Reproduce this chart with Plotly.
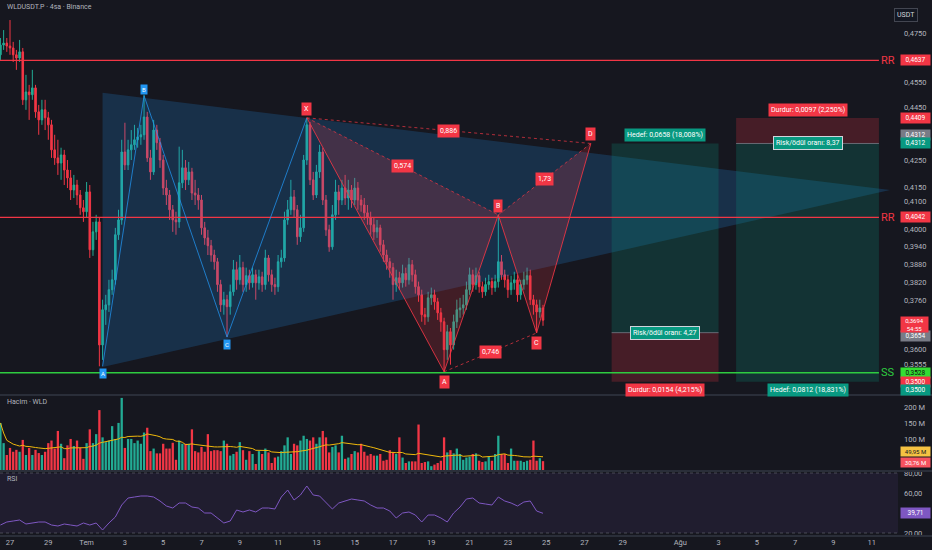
import math
import pandas as pd
import plotly.graph_objects as go

# WLDUSDT.P 4sa mumlar
first_open = 0.4660
closes = [
    0.4700, 0.4708, 0.4696, 0.4688, 0.4660, 0.4647, 0.4672, 0.4480, 0.4511, 0.4500,
    0.4527, 0.4433, 0.4402, 0.4441, 0.4410, 0.4383, 0.4288, 0.4258, 0.4239, 0.4269,
    0.4213, 0.4184, 0.4140, 0.4158, 0.4122, 0.4076, 0.4062, 0.4133, 0.3929, 0.3991,
    0.4026, 0.3615, 0.3728, 0.3744, 0.3794, 0.3827, 0.3981, 0.4033, 0.4280, 0.4232,
    0.4288, 0.4307, 0.4326, 0.4337, 0.4345, 0.4413, 0.4258, 0.4206, 0.4363, 0.4315,
    0.4250, 0.4147, 0.4122, 0.4069, 0.4033, 0.4026, 0.4166, 0.4221, 0.4177, 0.4206,
    0.4129, 0.4122, 0.4104, 0.4005, 0.3970, 0.3943, 0.3911, 0.3888, 0.3811, 0.3744,
    0.3761, 0.3738, 0.3787, 0.3861, 0.3827, 0.3868, 0.3811, 0.3841, 0.3817, 0.3844,
    0.3817, 0.3837, 0.3811, 0.3901, 0.3844, 0.3811, 0.3804, 0.3888, 0.3901, 0.4033,
    0.4069, 0.4115, 0.4069, 0.3974, 0.4005, 0.4250, 0.4383, 0.4177, 0.4122, 0.4206,
    0.4280, 0.4104, 0.3998, 0.3939, 0.4051, 0.4133, 0.4104, 0.4147, 0.4111, 0.4140,
    0.4104, 0.4147, 0.4104, 0.4086, 0.4058, 0.4040, 0.4016, 0.3991, 0.4005, 0.3946,
    0.3911, 0.3888, 0.3868, 0.3811, 0.3834, 0.3817, 0.3848, 0.3827, 0.3878, 0.3844,
    0.3804, 0.3777, 0.3712, 0.3705, 0.3767, 0.3777, 0.3754, 0.3718, 0.3689, 0.3600,
    0.3657, 0.3615, 0.3689, 0.3728, 0.3734, 0.3744, 0.3794, 0.3844, 0.3811, 0.3841,
    0.3804, 0.3787, 0.3811, 0.3821, 0.3801, 0.3821, 0.3888, 0.3844, 0.3827, 0.3794,
    0.3817, 0.3827, 0.3777, 0.3811, 0.3827, 0.3841, 0.3761, 0.3744, 0.3721, 0.3734,
    0.3694,
]
highs = [
    0.4729, 0.4762, 0.4729, 0.4804, 0.4713, 0.4680, 0.4721, 0.4688, 0.4579, 0.4539,
    0.4599, 0.4539, 0.4460, 0.4480, 0.4480, 0.4433, 0.4402, 0.4345, 0.4326, 0.4296,
    0.4288, 0.4250, 0.4213, 0.4195, 0.4177, 0.4140, 0.4104, 0.4169, 0.4158, 0.4026,
    0.4051, 0.4040, 0.3761, 0.3777, 0.3827, 0.3861, 0.4005, 0.4069, 0.4326, 0.4391,
    0.4326, 0.4363, 0.4383, 0.4371, 0.4383, 0.4500, 0.4433, 0.4288, 0.4402, 0.4383,
    0.4333, 0.4269, 0.4177, 0.4140, 0.4086, 0.4062, 0.4300, 0.4288, 0.4250, 0.4243,
    0.4221, 0.4177, 0.4147, 0.4122, 0.4026, 0.3998, 0.3963, 0.3929, 0.3901, 0.3827,
    0.3787, 0.3777, 0.3811, 0.3894, 0.3888, 0.3911, 0.3888, 0.3868, 0.3861, 0.3868,
    0.3861, 0.3861, 0.3854, 0.3929, 0.3911, 0.3861, 0.3834, 0.3911, 0.3929, 0.4062,
    0.4104, 0.4177, 0.4140, 0.4086, 0.4051, 0.4269, 0.4410, 0.4394, 0.4206, 0.4232,
    0.4307, 0.4296, 0.4122, 0.4016, 0.4086, 0.4177, 0.4158, 0.4177, 0.4195, 0.4177,
    0.4158, 0.4184, 0.4169, 0.4122, 0.4111, 0.4086, 0.4062, 0.4040, 0.4033, 0.4016,
    0.3963, 0.3929, 0.3901, 0.3884, 0.3861, 0.3854, 0.3878, 0.3868, 0.3901, 0.3894,
    0.3861, 0.3821, 0.3794, 0.3734, 0.3787, 0.3801, 0.3794, 0.3767, 0.3734, 0.3702,
    0.3679, 0.3669, 0.3712, 0.3761, 0.3767, 0.3777, 0.3821, 0.3868, 0.3861, 0.3868,
    0.3854, 0.3821, 0.3834, 0.3844, 0.3834, 0.3844, 0.4051, 0.3911, 0.3861, 0.3844,
    0.3841, 0.3854, 0.3844, 0.3827, 0.3854, 0.3868, 0.3861, 0.3777, 0.3761, 0.3761,
    0.3744,
]
lows = [
    0.4639, 0.4680, 0.4672, 0.4660, 0.4631, 0.4599, 0.4631, 0.4460, 0.4441, 0.4402,
    0.4480, 0.4410, 0.4345, 0.4383, 0.4363, 0.4326, 0.4258, 0.4232, 0.4195, 0.4177,
    0.4158, 0.4147, 0.4104, 0.4111, 0.4086, 0.4051, 0.4026, 0.4040, 0.3901, 0.3908,
    0.3963, 0.3548, 0.3568, 0.3679, 0.3721, 0.3777, 0.3811, 0.3963, 0.4016, 0.4213,
    0.4213, 0.4250, 0.4288, 0.4296, 0.4307, 0.4326, 0.4243, 0.4177, 0.4195, 0.4288,
    0.4221, 0.4122, 0.4086, 0.4033, 0.3991, 0.3981, 0.4005, 0.4147, 0.4140, 0.4158,
    0.4104, 0.4086, 0.4069, 0.3981, 0.3946, 0.3911, 0.3888, 0.3861, 0.3787, 0.3721,
    0.3712, 0.3640, 0.3712, 0.3774, 0.3794, 0.3811, 0.3787, 0.3787, 0.3794, 0.3801,
    0.3761, 0.3794, 0.3787, 0.3794, 0.3821, 0.3787, 0.3777, 0.3787, 0.3868, 0.3888,
    0.4016, 0.4051, 0.4040, 0.3946, 0.3956, 0.3991, 0.4232, 0.4158, 0.4104, 0.4111,
    0.4184, 0.4086, 0.3977, 0.3922, 0.3929, 0.4033, 0.4051, 0.4086, 0.4086, 0.4069,
    0.4076, 0.4086, 0.4069, 0.4062, 0.4033, 0.4016, 0.3981, 0.3963, 0.3970, 0.3922,
    0.3888, 0.3861, 0.3834, 0.3761, 0.3787, 0.3794, 0.3801, 0.3804, 0.3811, 0.3821,
    0.3781, 0.3754, 0.3689, 0.3679, 0.3689, 0.3744, 0.3728, 0.3695, 0.3657, 0.3531,
    0.3568, 0.3553, 0.3600, 0.3669, 0.3702, 0.3712, 0.3728, 0.3777, 0.3787, 0.3794,
    0.3784, 0.3767, 0.3774, 0.3794, 0.3777, 0.3787, 0.3801, 0.3827, 0.3801, 0.3767,
    0.3777, 0.3794, 0.3754, 0.3761, 0.3794, 0.3811, 0.3744, 0.3712, 0.3653, 0.3702,
    0.3676,
]
# hacim, milyon WLD
volumes_m = [
    150, 87, 50, 72, 60, 66, 60, 97, 50, 72,
    50, 66, 56, 50, 60, 87, 95, 70, 125, 85,
    40, 80, 100, 78, 95, 72, 38, 87, 130, 87,
    115, 190, 105, 90, 95, 140, 100, 150, 228, 72,
    100, 100, 87, 95, 85, 120, 135, 62, 70, 55,
    55, 85, 70, 70, 88, 35, 95, 85, 85, 85,
    130, 62, 58, 75, 60, 115, 62, 65, 65, 62,
    95, 85, 48, 53, 60, 90, 65, 35, 62, 53,
    22, 62, 53, 70, 58, 25, 42, 45, 62, 80,
    105, 53, 85, 80, 95, 110, 100, 95, 105, 85,
    105, 125, 105, 58, 75, 80, 58, 110, 38, 42,
    53, 62, 58, 85, 60, 48, 53, 48, 48, 53,
    32, 35, 65, 58, 53, 105, 42, 25, 30, 30,
    30, 145, 25, 28, 30, 15, 20, 25, 32, 105,
    58, 65, 55, 70, 53, 35, 42, 45, 53, 55,
    32, 28, 30, 45, 32, 53, 110, 53, 53, 25,
    70, 32, 32, 32, 28, 32, 35, 95, 32, 40,
    30.76,
]
# RSI, her iki mumda bir okunan
rsi_2 = [
    28, 31, 32, 33, 29, 30, 31, 31, 28, 27,
    29, 28, 27, 30, 28, 30, 23, 30, 36, 48,
    55, 56, 57, 57, 56, 52, 47, 45, 50, 50,
    46, 45, 40, 40, 35, 30, 32, 43, 41, 43,
    41, 45, 45, 44, 56, 63, 53, 58, 67, 58,
    57, 50, 44, 50, 52, 54, 53, 52, 48, 45,
    45, 42, 35, 40, 41, 38, 31, 38, 38, 35,
    31, 40, 46, 54, 55, 50, 49, 48, 56, 52,
    50, 47, 51, 52, 42, 39.71,
]

# destek / direnc seviyeleri
rr_levels = [0.4637, 0.4042]
ss_level = 0.3528

# XABCD harmonik formasyon
xabcd_names = ["X", "A", "B", "C", "D"]
xabcd_times = ["2025-07-12 12:00", "2025-07-19 16:00", "2025-07-22 12:00",
               "2025-07-24 12:00", "2025-07-27 08:00"]
xabcd_prices = [0.4410, 0.3531, 0.4051, 0.3653, 0.4312]
ratio_pairs = [(0, 2), (1, 3), (2, 4), (0, 4)]
ratio_texts = ["0,574", "0,746", "1,73", "0,886"]

# ucgen formasyonu
tri_names = ["A", "B", "C"]
tri_times = ["2025-07-01 20:00", "2025-07-04 00:00", "2025-07-08 08:00", "2025-07-12 12:00"]
tri_prices = [0.3548, 0.4496, 0.3640, 0.4410]
wedge_times = ["2025-07-01 20:00", "2025-08-11 23:00", "2025-07-01 20:00"]
wedge_prices = [0.4508, 0.4140, 0.3546]

# uzun / kisa pozisyon araclari
pos_start = ["2025-07-28 10:00", "2025-08-03 22:00"]
pos_end = ["2025-08-03 00:00", "2025-08-11 09:00"]
pos_entry = [0.3654, 0.4312]
pos_target = [0.4312, 0.3500]
pos_stop = [0.3500, 0.4409]
pos_target_txt = ["Hedef: 0,0658 (18,008%)", "Hedef: 0,0812 (18,831%)"]
pos_stop_txt = ["Durdur: 0,0154 (4,215%)", "Durdur: 0,0097 (2,250%)"]
pos_rr_txt = ["Risk/ödül oranı: 4,27", "Risk/ödül oranı: 8,37"]

price_ticks = [0.4750, 0.4550, 0.4450, 0.4250, 0.4150, 0.4100, 0.4000,
               0.3940, 0.3880, 0.3820, 0.3760, 0.3600, 0.3555]
date_ticks = ["2025-06-27", "2025-06-29", "2025-07-01", "2025-07-03", "2025-07-05",
              "2025-07-07", "2025-07-09", "2025-07-11", "2025-07-13", "2025-07-15",
              "2025-07-17", "2025-07-19", "2025-07-21", "2025-07-23", "2025-07-25",
              "2025-07-27", "2025-07-29", "2025-08-01", "2025-08-03", "2025-08-05",
              "2025-08-07", "2025-08-09", "2025-08-11"]
date_labels = ["27", "29", "Tem", "3", "5", "7", "9", "11", "13", "15", "17", "19",
               "21", "23", "25", "27", "29", "Ağu", "3", "5", "7", "9", "11"]

BG = "#16171f"
UP = "#22ab94"
DN = "#f23645"
TEAL = "#089981"
GREY_TXT = "#b2b5be"
FONT = "Roboto, DejaVu Sans, sans-serif"
PX = 898 / 932

times = pd.date_range("2025-06-26 12:00", periods=len(closes), freq="4h")
opens = [first_open] + closes[:-1]
up = [c >= o for o, c in zip(opens, closes)]
x_start = pd.Timestamp("2025-06-26 11:28")
x_end = pd.Timestamp("2025-08-12 08:54")


def lg(p):
    return math.log10(p)


def tmid(a, b):
    a, b = pd.Timestamp(a), pd.Timestamp(b)
    return a + (b - a) / 2


fig = go.Figure()

# ucgen alani
fig.add_trace(go.Scatter(x=wedge_times, y=wedge_prices, fill="toself", mode="lines",
                         fillcolor="rgba(33,150,243,0.2)", line=dict(width=0),
                         yaxis="y", hoverinfo="skip"))

# pozisyon kutulari
for i in range(2):
    for a, b, col in [(pos_entry[i], pos_target[i], "rgba(8,153,129,0.22)"),
                      (pos_entry[i], pos_stop[i], "rgba(242,54,69,0.22)")]:
        fig.add_trace(go.Scatter(
            x=[pos_start[i], pos_end[i], pos_end[i], pos_start[i], pos_start[i]],
            y=[a, a, b, b, a], fill="toself", mode="lines", fillcolor=col,
            line=dict(width=0), yaxis="y", hoverinfo="skip"))
    fig.add_trace(go.Scatter(x=[pos_start[i], pos_end[i]], y=[pos_entry[i]] * 2, mode="lines",
                             line=dict(color="rgba(120,123,134,0.8)", width=1),
                             yaxis="y", hoverinfo="skip"))

# harmonik ucgen dolgulari
for tri in [(0, 1, 2), (2, 3, 4)]:
    idx = list(tri) + [tri[0]]
    fig.add_trace(go.Scatter(x=[xabcd_times[k] for k in idx], y=[xabcd_prices[k] for k in idx],
                             fill="toself", mode="lines", fillcolor="rgba(242,54,69,0.2)",
                             line=dict(width=0), yaxis="y", hoverinfo="skip"))

# mumlar
fig.add_trace(go.Candlestick(
    x=times, open=opens, high=highs, low=lows, close=closes,
    increasing=dict(line=dict(color=UP, width=1), fillcolor=UP),
    decreasing=dict(line=dict(color=DN, width=1), fillcolor=DN),
    yaxis="y", hoverinfo="skip"))

# seviyeler
line_end = "2025-08-11 09:00"
for lvl in rr_levels:
    fig.add_trace(go.Scatter(x=[x_start, line_end], y=[lvl, lvl], mode="lines",
                             line=dict(color=DN, width=1.3), yaxis="y", hoverinfo="skip"))
fig.add_trace(go.Scatter(x=[x_start, line_end], y=[ss_level, ss_level], mode="lines",
                         line=dict(color="#2ecc40", width=1.5), yaxis="y", hoverinfo="skip"))

# formasyon cizgileri
fig.add_trace(go.Scatter(x=tri_times, y=tri_prices, mode="lines",
                         line=dict(color="rgba(33,150,243,0.75)", width=1), yaxis="y",
                         hoverinfo="skip"))
fig.add_trace(go.Scatter(x=xabcd_times, y=xabcd_prices, mode="lines",
                         line=dict(color="rgba(242,54,69,0.85)", width=1), yaxis="y",
                         hoverinfo="skip"))
for a, b in ratio_pairs:
    fig.add_trace(go.Scatter(x=[xabcd_times[a], xabcd_times[b]],
                             y=[xabcd_prices[a], xabcd_prices[b]], mode="lines",
                             line=dict(color="rgba(242,54,69,0.7)", width=1, dash="dot"),
                             yaxis="y", hoverinfo="skip"))

# hacim
vol_ma = pd.Series(volumes_m).rolling(20, min_periods=1).mean()
fig.add_trace(go.Bar(x=times, y=volumes_m, marker_color=[UP if u else DN for u in up],
                     marker_line_width=0, width=4 * 3600 * 1000 * 0.72,
                     yaxis="y2", hoverinfo="skip"))
fig.add_trace(go.Scatter(x=times, y=vol_ma, mode="lines", line=dict(color="#f0b90b", width=1),
                         yaxis="y2", hoverinfo="skip"))

# RSI
fig.add_trace(go.Scatter(x=times[::2], y=rsi_2, mode="lines",
                         line=dict(color="#7e57c2", width=1), yaxis="y3", hoverinfo="skip"))

ann = []


def label(x, y, text, bg, color="#ffffff", size=7, xref="x", yref="y", **kw):
    d = dict(x=x, y=y, text=text, xref=xref, yref=yref, showarrow=False, bgcolor=bg,
             font=dict(color=color, size=size, family=FONT), borderpad=2)
    d.update(kw)
    ann.append(d)


# harf etiketleri
above_x = [True, False, True, False, True]
for n, t, p, ab in zip(xabcd_names, xabcd_times, xabcd_prices, above_x):
    label(t, lg(p), n, DN, yanchor="bottom" if ab else "top", yshift=2 if ab else -3)
above_t = [False, True, False]
for n, t, p, ab in zip(tri_names, tri_times, tri_prices, above_t):
    label(t, lg(p), n, "#2196f3", size=6, borderpad=1,
          yanchor="bottom" if ab else "top", yshift=1 if ab else -2)
for (a, b), txt in zip(ratio_pairs, ratio_texts):
    label(tmid(xabcd_times[a], xabcd_times[b]),
          lg(math.sqrt(xabcd_prices[a] * xabcd_prices[b])), txt, DN)

# pozisyon etiketleri
for i in range(2):
    cx = tmid(pos_start[i], pos_end[i])
    top = max(pos_target[i], pos_stop[i])
    for val, txt, col in [(pos_target[i], pos_target_txt[i], TEAL),
                          (pos_stop[i], pos_stop_txt[i], DN)]:
        ab = val == top
        label(cx, lg(val), txt, col, yanchor="bottom" if ab else "top", yshift=1 if ab else -1)
    label(cx, lg(pos_entry[i]), pos_rr_txt[i], TEAL, bordercolor="#d1d4dc", borderwidth=1)

# RR / SS yazilari
for lvl in rr_levels:
    ann.append(dict(x="2025-08-11 20:00", y=lg(lvl), text="RR", showarrow=False,
                    font=dict(color=DN, size=11, family=FONT)))
ann.append(dict(x="2025-08-11 20:00", y=lg(ss_level), text="SS", showarrow=False,
                font=dict(color="#2ecc40", size=11, family=FONT)))

# sag eksen fiyat etiketleri
AX = 900 / 932
price_tags = [
    ("0,4637", 0.4637, DN, "#ffffff", 0),
    ("0,4409", 0.4409, DN, "#ffffff", 0),
    ("0,4312", 0.4312, "#787b86", "#ffffff", 8),
    ("0,4312", 0.4312, TEAL, "#ffffff", 0),
    ("0,4042", 0.4042, DN, "#ffffff", 0),
    ("0,3654", 0.3654, "#787b86", "#ffffff", -3),
    ("0,3528", 0.3528, "#33dd33", "#0b0b0b", 0),
    ("0,3500", 0.3500, DN, "#ffffff", 0),
    ("0,3500", 0.3500, TEAL, "#ffffff", -8),
]
for txt, v, bg, fc, sh in price_tags:
    label(AX, lg(v), txt, bg, color=fc, xref="paper", xanchor="left", yshift=sh,
          width=27, borderpad=1, size=6.5)
label(AX, lg(0.3694), "0,3694<br>54:55", DN, xref="paper", xanchor="left", yanchor="top",
      yshift=4, width=27, borderpad=0, size=6)
label(AX, 49.95, "49,95 M", "#f5c242", color="#131722", xref="paper", yref="y2",
      xanchor="left", yshift=3, width=27, borderpad=1, size=6)
label(AX, 30.76, "30,76 M", "#f7525f", xref="paper", yref="y2", xanchor="left",
      yshift=-1, width=27, borderpad=1, size=6)
label(AX, 39.71, "39,71", "#7e57c2", xref="paper", yref="y3", xanchor="left",
      width=27, borderpad=1, size=6.5)
ann.append(dict(x=918 / 932, y=1 - 8 / 550, xref="paper", yref="paper", text="USDT",
                showarrow=False, bgcolor="#131722", bordercolor="#434651", borderwidth=1,
                borderpad=2, font=dict(color="#d1d4dc", size=7, family=FONT)))

# baslik ve panel adlari
for txt, yy in [("WLDUSDT.P · 4sa · Binance", 1 - 7 / 550), ("Hacim · WLD", 1 - 402 / 550),
                ("RSI", 1 - 479 / 550)]:
    ann.append(dict(x=5 / 932, y=yy, xref="paper", yref="paper", text=txt, showarrow=False,
                    xanchor="left", yanchor="middle",
                    font=dict(color=GREY_TXT, size=7, family=FONT)))

shapes = [
    dict(type="rect", xref="paper", yref="y3", x0=0, x1=PX, y0=20, y1=80,
         fillcolor="rgba(126,87,194,0.1)", line=dict(width=0), layer="below"),
]
for v in [80, 20]:
    shapes.append(dict(type="line", xref="paper", yref="y3", x0=0, x1=PX, y0=v, y1=v,
                       line=dict(color="rgba(120,123,134,0.5)", width=1, dash="dot")))
for yy in [1 - 395 / 550, 1 - 471 / 550, 1 - 536 / 550]:
    shapes.append(dict(type="line", xref="paper", yref="paper", x0=0, x1=1, y0=yy, y1=yy,
                       line=dict(color="#2a2e39", width=2)))

tickfont = dict(color=GREY_TXT, size=7.5, family=FONT)
fig.update_layout(
    width=932, height=550, margin=dict(l=0, r=0, t=0, b=0),
    paper_bgcolor=BG, plot_bgcolor=BG, showlegend=False, hovermode=False,
    font=dict(family=FONT), annotations=ann, shapes=shapes,
    xaxis=dict(domain=[0, PX], type="date", range=[x_start, x_end], anchor="y3",
               tickvals=date_ticks, ticktext=date_labels, tickfont=tickfont,
               showgrid=False, zeroline=False, showline=False, ticks="",
               rangeslider=dict(visible=False), automargin=False),
    yaxis=dict(domain=[1 - 394 / 550, 1], type="log", range=[lg(0.3463), lg(0.4889)],
               side="right", anchor="x", tickvals=price_ticks,
               ticktext=[f"{v:.4f}".replace(".", ",") for v in price_ticks],
               tickfont=tickfont, showgrid=False, zeroline=False, ticks="",
               ticklabelstandoff=5, automargin=False),
    yaxis2=dict(domain=[1 - 471 / 550, 1 - 396 / 550], range=[0, 234], side="right",
                anchor="x", tickvals=[100, 150, 200], ticktext=["100 M", "150 M", "200 M"],
                tickfont=tickfont, showgrid=False, zeroline=False, ticks="",
                ticklabelstandoff=5, automargin=False),
    yaxis3=dict(domain=[1 - 536 / 550, 1 - 472 / 550], range=[17, 81], side="right",
                anchor="x", tickvals=[20, 60, 80], ticktext=["20,00", "60,00", "80,00"],
                tickfont=tickfont, showgrid=False, zeroline=False, ticks="",
                ticklabelstandoff=5, automargin=False),
)

# sayfa kenar boslugunu kaldir, arac cubugunu gizle
fig.write_html("out.html", config={"displayModeBar": False},
               post_script="document.body.style.margin='0';")
